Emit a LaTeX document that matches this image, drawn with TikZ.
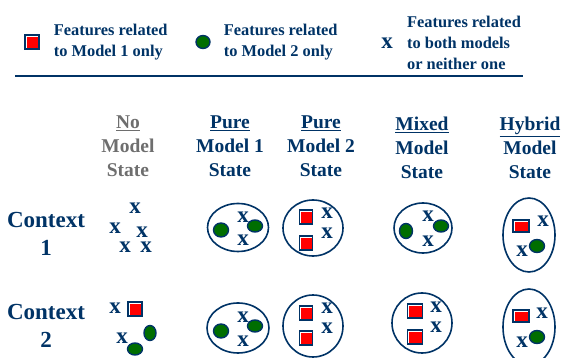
\documentclass[tikz,border=0pt]{standalone}
\usepackage{fontspec}
\setmainfont{Liberation Serif}
\usepackage{tikz}
\usetikzlibrary{shapes.geometric}
\usetikzlibrary{positioning}
\definecolor{navy}{RGB}{0,51,102}
\definecolor{headgray}{RGB}{110,110,110}
\definecolor{featgreen}{RGB}{0,110,0}
\tikzset{
  legtext/.style={text=navy, font=\fontsize{16.4}{21}\selectfont\bfseries, align=left, inner sep=0},
  head/.style={text=navy, font=\fontsize{19.5}{24}\selectfont\bfseries, align=center, inner sep=0},
  ctx/.style={text=navy, font=\fontsize{23}{28}\selectfont\bfseries, align=center, inner sep=0},
  xmark/.style={text=navy, font=\fontsize{23}{23}\selectfont\bfseries, inner sep=0},
  sqr/.style={draw=navy, line width=1.4pt, fill=white, inner sep=0,
    minimum width=#1, minimum height=14,
    path picture={\fill[red] ([xshift=1.7pt,yshift=-1.7pt]path picture bounding box.north west)
      rectangle (path picture bounding box.south east);}},
  sqr/.default=14,
  dot/.style args={#1x#2}{ellipse, draw=navy, line width=1.4pt, fill=featgreen, inner sep=0,
    minimum width=#1, minimum height=#2},
  state/.style={ellipse, draw=navy, line width=1.6pt, inner sep=0}
}

\begin{document}
\begin{tikzpicture}[x=1pt,y=-1pt]
\useasboundingbox (0,0) rectangle (579,358);

% Legend
\node[sqr] (legsq) at (32,42) {};
\node[legtext, anchor=west, right=14pt of legsq] (legm1) {Features related\\to Model 1 only};
\node[dot=14x13] (legdot) at (203,42) {};
\node[legtext, anchor=west, right=13pt of legdot] (legm2) {Features related\\to Model 2 only};
\node[xmark] (legx) at (387,43) {x};
\node[legtext, anchor=west, right=14pt of legx] (legboth) {Features related\\to both models\\or neither one};
\draw[navy, line width=1.6pt] (15,76) -- (523,76);

% Column heads
\node[head, text=headgray] (hno)  at (128,146) {\underline{No}\\Model\\State};
\node[head] (hpure1) at (230,146) {\underline{Pure}\\Model 1\\State};
\node[head] (hpure2) at (321,146) {\underline{Pure}\\Model 2\\State};
\node[head] (hmixed) at (422,148) {\underline{Mixed}\\Model\\State};
\node[head] (hhybrid) at (530,148) {\underline{Hybrid}\\Model\\State};

% Row heads
\node[ctx] (ctxa) at (46,234) {Context\\1};
\node[ctx] (ctxb) at (46,326) {Context\\2};

% Context 1
\node[xmark] (nax1) at (135,208) {x};
\node[xmark] (nax2) at (115,228) {x};
\node[xmark] (nax3) at (142,232) {x};
\node[xmark] (nax4) at (125,247) {x};
\node[xmark] (nax5) at (146,247) {x};

\node[state, minimum width=61, minimum height=48] (paa) at (238,227.5) {};
\node[dot=15x14] (paa1) at (221,230) {};
\node[dot=15x12] (paa2) at (255,226) {};
\node[xmark] (paax1) at (243,217) {x};
\node[xmark] (paax2) at (243,240) {x};

\node[state, minimum width=60, minimum height=56] (pba) at (313,228) {};
\node[sqr=13] (pba1) at (306,217) {};
\node[sqr=13] (pba2) at (306,243) {};
\node[xmark] (pbax1) at (327,213) {x};
\node[xmark] (pbax2) at (327,233) {x};

\node[state, minimum width=58, minimum height=50] (mxa) at (423,228) {};
\node[dot=13x15] (mxa1) at (406,231) {};
\node[dot=15x12] (mxa2) at (441,226) {};
\node[xmark] (mxax1) at (428,216) {x};
\node[xmark] (mxax2) at (428,241) {x};

\node[state, minimum width=52, minimum height=74] (hya) at (529,235) {};
\node[sqr=16, minimum height=12] (hya1) at (521,226) {};
\node[xmark] (hyax1) at (543,221) {x};
\node[xmark] (hyax2) at (522,251) {x};
\node[dot=15x13] (hya2) at (537,246) {};

% Context 2
\node[xmark] (nbx1) at (115,308) {x};
\node[sqr] (nb1) at (135,309) {};
\node[xmark] (nbx2) at (122,338) {x};
\node[dot=12x15] (nb2) at (150,333) {};
\node[dot=15x12] (nb3) at (135,349) {};

\node[state, minimum width=62, minimum height=50] (pab) at (238,328) {};
\node[dot=15x14] (pab1) at (221,331) {};
\node[dot=15x12] (pab2) at (255,326) {};
\node[xmark] (pabx1) at (243,317) {x};
\node[xmark] (pabx2) at (243,341) {x};

\node[state, minimum width=60, minimum height=62] (pbb) at (313,326) {};
\node[sqr=13] (pbb1) at (306,313) {};
\node[sqr=13] (pbb2) at (306,338) {};
\node[xmark] (pbbx1) at (327,308) {x};
\node[xmark] (pbbx2) at (327,328) {x};

\node[state, minimum width=60, minimum height=60] (mxb) at (422,323) {};
\node[sqr=15] (mxb1) at (415,311) {};
\node[sqr=15] (mxb2) at (415,337) {};
\node[xmark] (mxbx1) at (436,307) {x};
\node[xmark] (mxbx2) at (436,327) {x};

\node[state, minimum width=52, minimum height=76] (hyb) at (529,327) {};
\node[sqr=16, minimum height=12] (hyb1) at (521,316) {};
\node[xmark] (hybx1) at (542,313) {x};
\node[xmark] (hybx2) at (522,342) {x};
\node[dot=15x13] (hyb2) at (537,337) {};

\end{tikzpicture}
\end{document}
